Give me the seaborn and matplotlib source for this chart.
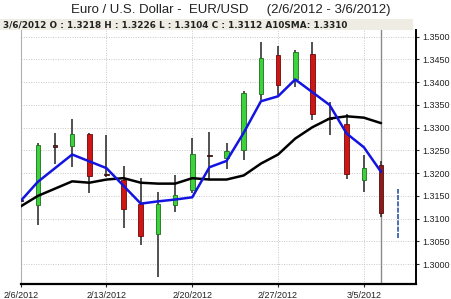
import matplotlib
matplotlib.use("Agg")
import matplotlib.pyplot as plt
import seaborn as sns
import pandas as pd
import numpy as np

# ---- data ----
dates = ["2/6/2012", "2/7/2012", "2/8/2012", "2/9/2012", "2/10/2012",
         "2/13/2012", "2/14/2012", "2/15/2012", "2/16/2012", "2/17/2012",
         "2/20/2012", "2/21/2012", "2/22/2012", "2/23/2012", "2/24/2012",
         "2/27/2012", "2/28/2012", "2/29/2012", "3/1/2012", "3/2/2012",
         "3/5/2012", "3/6/2012"]
opens = [1.3138, 1.3130, 1.3261, 1.3260, 1.3287, 1.3197, 1.3184, 1.3133, 1.3066, 1.3130,
         1.3162, 1.3240, 1.3234, 1.3250, 1.3375, 1.3460, 1.3407, 1.3461, 1.3321, 1.3309,
         1.3184, 1.3218]
highs = [1.3150, 1.3267, 1.3289, 1.3320, 1.3288, 1.3283, 1.3216, 1.3190, 1.3159, 1.3197,
         1.3277, 1.3290, 1.3266, 1.3380, 1.3488, 1.3480, 1.3471, 1.3488, 1.3356, 1.3331,
         1.3239, 1.3226]
lows = [1.3030, 1.3087, 1.3221, 1.3214, 1.3157, 1.3192, 1.3079, 1.3042, 1.2972, 1.3115,
        1.3157, 1.3188, 1.3210, 1.3230, 1.3360, 1.3371, 1.3389, 1.3316, 1.3283, 1.3188,
        1.3159, 1.3104]
closes = [1.3140, 1.3261, 1.3258, 1.3285, 1.3194, 1.3195, 1.3122, 1.3062, 1.3132, 1.3152,
          1.3243, 1.3238, 1.3249, 1.3377, 1.3454, 1.3394, 1.3466, 1.3331, 1.3319, 1.3199,
          1.3212, 1.3112]
sma10 = [1.3127, 1.3150, 1.3166, 1.3182, 1.3179, 1.3186, 1.3189, 1.3179, 1.3177, 1.3177,
         1.3189, 1.3186, 1.3186, 1.3195, 1.3221, 1.3241, 1.3276, 1.3301, 1.3320, 1.3325,
         1.3322, 1.3310]
blue_ma = [1.3139, 1.3181, 1.3211, 1.3241, 1.3226, 1.3211, 1.3172, 1.3133, 1.3138, 1.3142,
           1.3147, 1.3213, 1.3227, 1.3289, 1.3358, 1.3369, 1.3406, 1.3378, 1.3350, 1.3287,
           1.3257, 1.3203]
proj_range = [1.3057, 1.3166]
x_tick_labels = ["2/6/2012", "2/13/2012", "2/20/2012", "2/27/2012", "3/5/2012"]
y_ticks = [1.3000, 1.3050, 1.3100, 1.3150, 1.3200, 1.3250, 1.3300, 1.3350, 1.3400, 1.3450, 1.3500]
title = "Euro / U.S. Dollar -  EUR/USD     (2/6/2012 - 3/6/2012)"
info = "3/6/2012 O : 1.3218 H : 1.3226 L : 1.3104 C : 1.3112 A10SMA: 1.3310"

df = pd.DataFrame({"date": dates, "open": opens, "high": highs, "low": lows,
                   "close": closes, "sma10": sma10, "blue": blue_ma})
df["idx"] = np.arange(len(df))

sns.set_style("white")
plt.rcParams["font.family"] = ["Liberation Sans", "DejaVu Sans"]

W, H = 451, 299
fig = plt.figure(figsize=(W / 100, H / 100), dpi=100)
fig.patch.set_facecolor("white")
L, R, B, T = 20.7, 416, 284.3, 30
ax = fig.add_axes([L / W, 1 - B / H, (R - L) / W, (B - T) / H])

# header band
band = plt.Rectangle((0, 1 - 30 / H), 413 / W, 11 / H, transform=fig.transFigure,
                     facecolor="#EFEDE3", edgecolor="none", zorder=0)
fig.patches.append(band)
fig.text(231 / W, 1 - 10 / H, title, ha="center", va="center", fontsize=9.5, color="#222222")
fig.text(3 / W, 1 - 24.5 / H, info, ha="left", va="center", fontsize=6.4,
         fontweight="bold", color="#222222", family=["DejaVu Sans"])

# grid
for yv in y_ticks:
    ax.axhline(yv, color="#C8C8C8", lw=0.7, ls=(0, (1, 1.5)), zorder=0)
for xv in [0, 5, 10, 15, 20]:
    ax.axvline(xv, color="#C8C8C8", lw=0.7, ls=(0, (1, 1.5)), zorder=0)

# current-day marker line (extends into header)
ax.axvline(21, ymin=0, ymax=(B - 19) / (B - T), color="#8A8A8A", lw=1.0,
           clip_on=False, zorder=1)

# candles
bw = 0.27
for _, r in df.iterrows():
    i = r["idx"]
    ax.vlines(i, r["low"], r["high"], color="#333333", lw=1.2, zorder=2)
    up = r["close"] >= r["open"]
    if i == len(df) - 1:
        fc, ec = "#8B1C1C", "#5A0A0A"
    elif up:
        fc, ec = "#3CD23C", "#1E6E1E"
    else:
        fc, ec = "#D01515", "#6A0808"
    lo = min(r["open"], r["close"])
    h = max(abs(r["close"] - r["open"]), 0.0003)
    if abs(r["close"] - r["open"]) < 0.0004:
        fc = "#6B2A2A"
        ec = "#3A1010"
    ax.bar(i, h, bottom=lo, width=bw, color=fc, edgecolor=ec, linewidth=0.6, zorder=3)

# projection line
ax.vlines(len(df), proj_range[0], proj_range[1], color="#2A58A8", lw=1.2,
          linestyles=(0, (3, 0.8)), zorder=2)

sns.lineplot(data=df, x="idx", y="sma10", ax=ax, color="black", lw=1.8, zorder=4)
sns.lineplot(data=df, x="idx", y="blue", ax=ax, color="#1414E0", lw=1.8, zorder=5)

ax.set_xlim(0, 23.04)
ax.set_ylim(1.29557, 1.35147)
ax.set_xlabel("")
ax.set_ylabel("")
ax.set_xticks([0, 5, 10, 15, 20])
ax.set_xticklabels(x_tick_labels, fontsize=6.5, color="#222222")
ax.yaxis.tick_right()
ax.set_yticks(y_ticks)
ax.set_yticklabels([f"{v:.4f}" for v in y_ticks], fontsize=6.5, color="#222222")
ax.tick_params(axis="y", direction="out", length=2.5, width=0.8, pad=2, right=True, left=False)
ax.tick_params(axis="x", direction="out", length=2.5, width=0.8, pad=2, bottom=True)

ax.spines["top"].set_visible(False)
ax.spines["left"].set_color("#B0B0B0")
ax.spines["left"].set_linewidth(0.8)
ax.spines["right"].set_color("black")
ax.spines["right"].set_linewidth(1.4)
ax.spines["bottom"].set_color("black")
ax.spines["bottom"].set_linewidth(1.6)
ax.set_facecolor("white")

fig.savefig("out.png", dpi=100, facecolor="white")
